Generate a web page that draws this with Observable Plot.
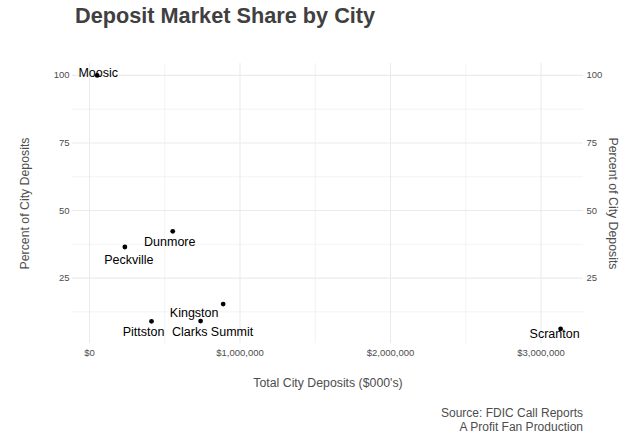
<!DOCTYPE html>
<html>
<head>
<meta charset="utf-8">
<script src="https://cdn.jsdelivr.net/npm/d3@7"></script>
<script src="https://cdn.jsdelivr.net/npm/@observablehq/plot@0.6"></script>
<style>
  html, body { margin: 0; padding: 0; background: #fff; }
  #wrap { position: relative; width: 640px; height: 441px; overflow: hidden; font-family: "Liberation Sans", Arial, sans-serif; }
  #title { position: absolute; left: 75px; top: 5px; font-size: 21.7px; line-height: 21px; font-weight: bold; color: #404040; white-space: nowrap; }
  #caption { position: absolute; right: 57px; top: 406px; font-size: 12px; line-height: 14px; color: #4d4d4d; text-align: right; }
  #chart { position: absolute; left: 0; top: 0; }
</style>
</head>
<body>
<div id="wrap">
  <div id="chart"></div>
  <div id="title">Deposit Market Share by City</div>
  <div id="caption">Source: FDIC Call Reports<br>A Profit Fan Production</div>
</div>
<script>
// ---- data ----
const cities   = ["Moosic", "Peckville", "Dunmore", "Pittston", "Clarks Summit", "Kingston", "Scranton"];
const deposits = [51000, 235000, 553000, 412000, 738000, 888000, 3130000];
const shares   = [100, 36.5, 42.3, 9.0, 9.1, 15.4, 6.2];

const xTicks = [0, 1000000, 2000000, 3000000];
const xMinor = [500000, 1500000, 2500000];
const yTicks = [25, 50, 75, 100];
const yMinor = [12.5, 37.5, 62.5, 87.5];

// label placement offsets (pixels), like a repel layout
const labelOffset = {
  "Moosic": [1, -2],
  "Peckville": [4, 13],
  "Dunmore": [-3, 11],
  "Pittston": [-8, 11],
  "Clarks Summit": [12, 11],
  "Kingston": [-29, 9],
  "Scranton": [-6, 5]
};

const data = cities.map((c, i) => ({city: c, deposits: deposits[i], share: shares[i]}));

const tickColor = "#4d4d4d";
const gridColor = "#ebebeb";

const labelMarks = data.map(d => Plot.text([d], {
  x: "deposits", y: "share", text: "city",
  dx: labelOffset[d.city][0], dy: labelOffset[d.city][1],
  fontSize: 12.5, fill: "#000", textAnchor: "middle", lineAnchor: "middle"
}));

const chart = Plot.plot({
  width: 640,
  height: 441,
  marginLeft: 72,
  marginRight: 57,
  marginTop: 63,
  marginBottom: 98,
  style: {fontFamily: "'Liberation Sans', Arial, sans-serif", background: "transparent", overflow: "visible"},
  x: {domain: [-113000, 3282000]},
  y: {domain: [0.8, 104.4]},
  marks: [
    Plot.gridX(xMinor, {stroke: gridColor, strokeOpacity: 1, strokeWidth: 0.6}),
    Plot.gridY(yMinor, {stroke: gridColor, strokeOpacity: 1, strokeWidth: 0.6}),
    Plot.gridX(xTicks, {stroke: gridColor, strokeOpacity: 1, strokeWidth: 1.1}),
    Plot.gridY(yTicks, {stroke: gridColor, strokeOpacity: 1, strokeWidth: 1.1}),
    Plot.axisX(xTicks, {anchor: "bottom", tickSize: 0, tickPadding: 6, label: null, fontSize: 9.5, fill: tickColor, tickFormat: d3.format("$,")}),
    Plot.axisY(yTicks, {anchor: "left", tickSize: 0, tickPadding: 3, label: null, fontSize: 9.5, fill: tickColor}),
    Plot.axisY(yTicks, {anchor: "right", tickSize: 0, tickPadding: 3, label: null, fontSize: 9.5, fill: tickColor}),
    Plot.text(["Total City Deposits ($000's)"], {frameAnchor: "bottom", text: d => d, dy: 40, fontSize: 12.3, fill: "#4d4d4d", textAnchor: "middle", lineAnchor: "middle"}),
    Plot.text(["Percent of City Deposits"], {frameAnchor: "left", text: d => d, dx: -47, rotate: -90, fontSize: 12.3, fill: "#4d4d4d", textAnchor: "middle", lineAnchor: "middle"}),
    Plot.text(["Percent of City Deposits"], {frameAnchor: "right", text: d => d, dx: 29, rotate: 90, fontSize: 12.3, fill: "#4d4d4d", textAnchor: "middle", lineAnchor: "middle"}),
    Plot.dot(data, {x: "deposits", y: "share", r: 2.4, fill: "#000", stroke: null}),
    ...labelMarks
  ]
});
document.getElementById("chart").appendChild(chart);
</script>
</body>
</html>
